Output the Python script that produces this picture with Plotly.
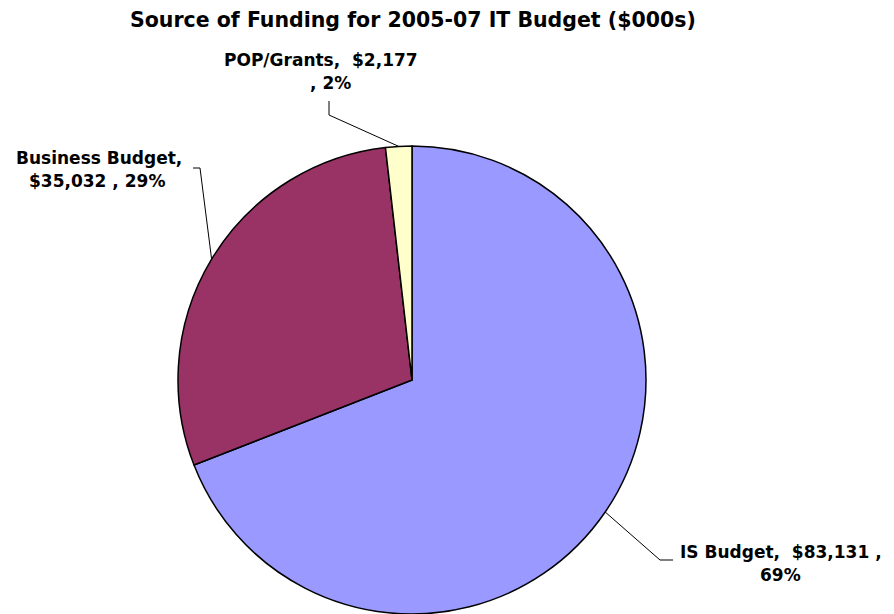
import math
import plotly.graph_objects as go

# ---- data ----
labels = ["IS Budget", "Business Budget", "POP/Grants"]
values = [83131, 35032, 2177]
colors = ["#9999FF", "#993366", "#FFFFCC"]
title = "Source of Funding for 2005-07 IT Budget ($000s)"

W, H = 894, 614
CX, CY, R = 412, 380, 234
FONT = "DejaVu Sans"

total = sum(values)
pcts = [round(v / total * 100) for v in values]

def px(x):
    return x / W

def py(y):
    return 1 - y / H

fig = go.Figure(go.Pie(
    labels=labels, values=values, sort=False, direction="clockwise", rotation=0,
    marker=dict(colors=colors, line=dict(color="black", width=1.5)),
    textinfo="none", showlegend=False,
    domain=dict(x=[px(CX - R), px(CX + R)], y=[py(CY + R), py(CY - R)]),
))

# anchor points on the pie edge at the middle of each slice
cum = 0
anchors = []
for v in values:
    mid = (cum + v / 2) / total * 2 * math.pi
    anchors.append((CX + R * math.sin(mid), CY - R * math.cos(mid)))
    cum += v

lab_text = [
    (f"{labels[0]},  ${values[0]:,} ,", (781, 552), f"{pcts[0]}%", (780, 575)),
    (f"{labels[1]},", (99, 158), f"${values[1]:,} , {pcts[1]}%", (97, 181)),
    (f"{labels[2]},  ${values[2]:,}", (321, 60), f", {pcts[2]}%", (330, 83)),
]
elbows = [
    [(660, 560), (673, 560)],
    [(200, 168), (193, 168)],
    [(329, 115), (329, 101)],
]

annotations = []
for (t1, p1, t2, p2) in lab_text:
    for t, p in ((t1, p1), (t2, p2)):
        annotations.append(dict(
            text=f"<b>{t}</b>", x=px(p[0]), y=py(p[1]), xref="paper", yref="paper",
            xanchor="center", yanchor="middle", showarrow=False,
            font=dict(family=FONT, size=17, color="black"),
        ))

shapes = []
for a, el in zip(anchors, elbows):
    pts = [a] + el
    path = "M " + " L ".join(f"{px(x)},{py(y)}" for x, y in pts)
    shapes.append(dict(type="path", path=path, xref="paper", yref="paper",
                       line=dict(color="black", width=1)))

annotations.append(dict(
    text=f"<b>{title}</b>", x=px(413), y=py(20), xref="paper", yref="paper",
    xanchor="center", yanchor="middle", showarrow=False,
    font=dict(family=FONT, size=20.5, color="black"),
))

fig.update_layout(
    width=W, height=H, margin=dict(l=0, r=0, t=0, b=0),
    paper_bgcolor="white", plot_bgcolor="white",
    annotations=annotations, shapes=shapes,
)

fig.write_html("out.html")
